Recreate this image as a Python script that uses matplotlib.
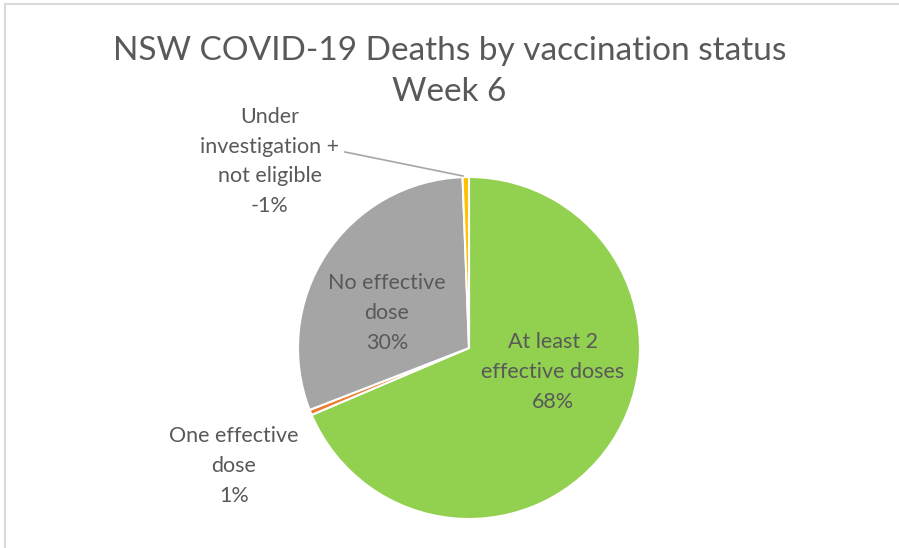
import matplotlib
matplotlib.use("Agg")
import matplotlib.pyplot as plt
from matplotlib.lines import Line2D

categories = ["At least 2 effective doses", "One effective dose", "No effective dose",
              "Under investigation + not eligible"]
values = [68.6, 0.5, 30.3, 0.6]
label_texts = ["At least 2\neffective doses\n68%", "One effective\ndose\n1%",
               "No effective\ndose\n30%", "Under\ninvestigation +\nnot eligible\n-1%"]
colors = ["#92D050", "#ED7D31", "#A5A5A5", "#FFC000"]
title = "NSW COVID-19 Deaths by vaccination status\nWeek 6"

plt.rcParams['font.family'] = ['Lato', 'DejaVu Sans']
W, H = 899, 548
fig = plt.figure(figsize=(W / 100, H / 100), dpi=100)
fig.patch.set_facecolor("white")

# chart border (top and left visible)
fig.add_artist(Line2D([4.5 / W, 1], [1 - 3.5 / H, 1 - 3.5 / H], transform=fig.transFigure,
                      color="#D9D9D9", lw=1.5))
fig.add_artist(Line2D([5 / W, 5 / W], [0, 1 - 3.5 / H], transform=fig.transFigure,
                      color="#D9D9D9", lw=1.5))

cx, cy, r = 469, 348, 171
ax = fig.add_axes([(cx - r) / W, (H - cy - r) / H, 2 * r / W, 2 * r / H])
ax.pie(values, colors=colors, startangle=90, counterclock=False,
       wedgeprops=dict(edgecolor="white", linewidth=1.5), radius=1.0)
ax.set_xlim(-1, 1)
ax.set_ylim(-1, 1)
ax.set_aspect("equal")
ax.axis("off")

txt_color = "#595959"
fs = 15.5
pos = [(0.49, -0.14), (-1.374, -0.69), (-0.48, 0.205), (-1.164, 1.09)]
for t, (x, y) in zip(label_texts, pos):
    ax.text(x, y, t, ha="center", va="center", fontsize=fs, color=txt_color,
            linespacing=1.6, clip_on=False)

# leader line for the small slice
ax.add_line(Line2D([(345 - cx) / r, (463 - cx) / r], [(cy - 152) / r, (cy - 176) / r],
                   color="#A6A6A6", lw=1.2, clip_on=False))

fig.text(0.5, 1 - 71.5 / H, title, ha="center", va="center", fontsize=24, color=txt_color,
         linespacing=1.46)

fig.savefig("out.png", dpi=100, facecolor="white")
